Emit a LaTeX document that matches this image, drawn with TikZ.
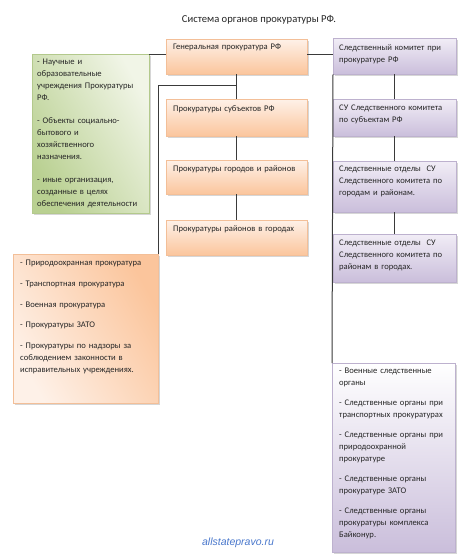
\documentclass[tikz,border=0pt]{standalone}
\usepackage{fontspec}
\setmainfont{Carlito}
\newfontfamily\wmfont{Liberation Sans}
\usetikzlibrary{shadows,calc}
\definecolor{txtc}{HTML}{262626}
\definecolor{lnc}{HTML}{3A3A3A}
\definecolor{orT}{HTML}{FEF1E8}
\definecolor{orB}{HTML}{FBC59C}
\definecolor{orD}{HTML}{F3BF98}
\definecolor{puT}{HTML}{F1EDF6}
\definecolor{puB}{HTML}{CABEDB}
\definecolor{puD}{HTML}{BDB1CE}
\definecolor{grA}{HTML}{B9D091}
\definecolor{grB}{HTML}{F1F5E7}
\definecolor{grD}{HTML}{B3C98C}
\definecolor{wmc}{HTML}{4A78CC}
\tikzset{
  boxbase/.style={anchor=north west, inner sep=0pt, rectangle,
    drop shadow={shadow xshift=1.3pt, shadow yshift=-1.5pt, opacity=0.35, fill=black!45}},
  obox/.style={boxbase, draw=orD, top color=orT, bottom color=orB},
  pbox/.style={boxbase, draw=puD, top color=puT, bottom color=puB},
  gbox/.style={boxbase, draw=grD, left color=grA, right color=grB, shading angle=120},
  sbox/.style={boxbase, draw=orD, left color=orT, right color=orB, shading angle=120},
  mbox/.style={boxbase, draw=puD, top color=white, bottom color=puB},
  txt/.style={anchor=north west, inner sep=0pt, align=left, text=txtc,
    font=\fontsize{8.6}{12}\selectfont},
  conn/.style={draw=lnc, line width=1pt}
}
\begin{document}
\begin{tikzpicture}[x=1pt,y=-1pt]
\useasboundingbox (0,0) rectangle (474,555);
\fill[white] (0,0) rectangle (474,555);

\node[anchor=center, inner sep=0pt, text=txtc, font=\fontsize{10.6}{13}\selectfont] (title) at (259,20) {Система органов прокуратуры РФ.};

% boxes
\node[obox, minimum width=141pt, minimum height=35pt] (gen) at (166,39) {};
\node[obox, minimum width=141pt, minimum height=37pt] (subj) at (166,99) {};
\node[obox, minimum width=141pt, minimum height=34pt] (city) at (166,160) {};
\node[obox, minimum width=141pt, minimum height=35pt] (rayon) at (166,220) {};
\node[pbox, minimum width=123pt, minimum height=36pt] (sk) at (333,38) {};
\node[pbox, minimum width=123pt, minimum height=37pt] (su) at (333,99) {};
\node[pbox, minimum width=123pt, minimum height=51pt] (so1) at (333,161) {};
\node[pbox, minimum width=123pt, minimum height=48pt] (so2) at (333,234) {};
\node[mbox, minimum width=123pt, minimum height=189pt] (mil) at (332,363) {};
\node[gbox, minimum width=117pt, minimum height=159pt] (green) at (32,54) {};
\node[sbox, minimum width=145pt, minimum height=149pt] (spec) at (13,254) {};

% texts
\node[txt, text width=132pt] (gen-t) at ([xshift=7pt,yshift=-5pt]gen.north west) {Генеральная прокуратура РФ};
\node[txt, text width=132pt] (subj-t) at ([xshift=7pt,yshift=-6pt]subj.north west) {Прокуратуры субъектов РФ};
\node[txt, text width=132pt] (city-t) at ([xshift=7pt,yshift=-5pt]city.north west) {Прокуратуры городов и районов};
\node[txt, text width=132pt] (rayon-t) at ([xshift=7pt,yshift=-5pt]rayon.north west) {Прокуратуры районов в городах};
\node[txt, text width=116pt] (sk-t) at ([xshift=6pt,yshift=-6pt]sk.north west) {Следственный комитет при\\прокуратуре РФ};
\node[txt, text width=116pt] (su-t) at ([xshift=6pt,yshift=-6pt]su.north west) {СУ Следственного комитета\\по субъектам РФ};
\node[txt, text width=116pt] (so1-t) at ([xshift=6pt,yshift=-5pt]so1.north west) {Следственные отделы\ \ СУ\\Следственного комитета по\\городам и районам.};
\node[txt, text width=116pt] (so2-t) at ([xshift=6pt,yshift=-6pt]so2.north west) {Следственные отделы\ \ СУ\\Следственного комитета по\\районам в городах.};
\node[txt, text width=112pt] (green-t) at ([xshift=5pt,yshift=-5pt]green.north west) {- Научные и\\образовательные\\учреждения Прокуратуры\\РФ.\\[11pt]- Объекты социально-\\бытового и\\хозяйственного\\назначения.\\[11pt]- иные организация,\\созданные в целях\\обеспечения деятельности};
\node[txt, text width=140pt] (spec-t) at ([xshift=7pt,yshift=-6pt]spec.north west) {- Природоохранная прокуратура\\[8.7pt]- Транспортная прокуратура\\[8.7pt]- Военная прокуратура\\[8.7pt]- Прокуратуры ЗАТО\\[8.7pt]- Прокуратуры по надзоры за\\соблюдением законности в\\исправительных учреждениях.};
\node[txt, text width=118pt] (mil-t) at ([xshift=7pt,yshift=-5pt]mil.north west) {- Военные следственные\\органы\\[8pt]- Следственные органы при\\транспортных прокуратурах\\[8pt]- Следственные органы при\\природоохранной\\прокуратуре\\[8pt]- Следственные органы\\прокуратуре ЗАТО\\[8pt]- Следственные органы\\прокуратуры комплекса\\Байконур.};

% connectors
\draw[conn] (green.north east) -- (green.north east -| gen.west);
\draw[conn] (green.north east -| gen.east) -- (green.north east -| sk.west);
\draw[conn] (gen.south) -- (subj.north);
\draw[conn] (subj.south) -- (city.north);
\draw[conn] (city.south) -- (rayon.north);
\coordinate (j1) at ($(gen.south)!0.47!(subj.north)$);
\draw[conn] (j1) -| (spec.north east);
\draw[conn] (sk.south) -- (su.north);
\draw[conn] (su.south) -- (so1.north);
\draw[conn] (so1.south) -- (so2.north);
\draw[conn] (sk.south west) -- (mil.north west);

\node[anchor=center, inner sep=0pt, text=wmc, font=\wmfont\itshape\fontsize{10.5}{12}\selectfont] (wm) at (238,543) {allstatepravo.ru};
\end{tikzpicture}
\end{document}
